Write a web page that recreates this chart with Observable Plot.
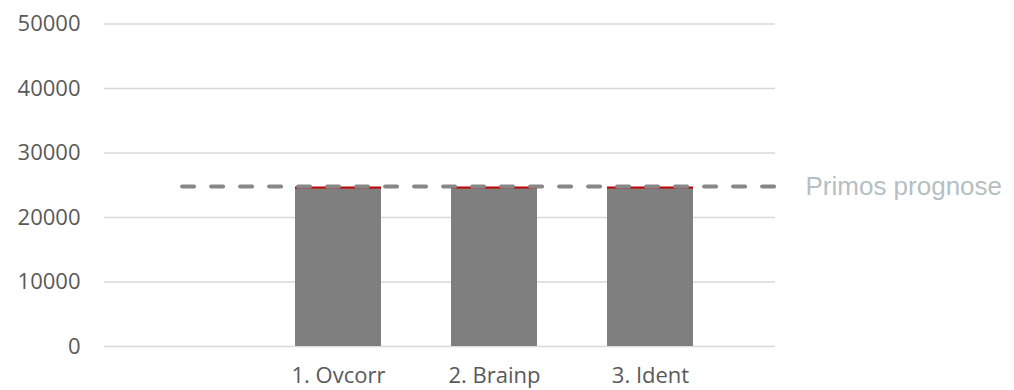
<!DOCTYPE html>
<html><head><meta charset="utf-8">
<script src="https://cdn.jsdelivr.net/npm/d3@7"></script>
<script src="https://cdn.jsdelivr.net/npm/@observablehq/plot@0.6"></script>
<style>html,body{margin:0;padding:0;background:#fff}</style>
</head><body><div id="chart"></div>
<script>
const categories = [" ", "1. Ovcorr", "2. Brainp", "3. Ident"];
const barCategories = ["1. Ovcorr", "2. Brainp", "3. Ident"];
const barValues = [24650, 24650, 24650];
const forecastValue = 24800;
const forecastLabel = "Primos prognose";
const yTicks = [0, 10000, 20000, 30000, 40000, 50000];

const W = 1014, H = 390;
const mL = 104, mR = 239, mT = 23.5, mB = 44;
const bars = barCategories.map((c, i) => ({cat: c, value: barValues[i]}));

const xOpts = {type: "band", domain: categories, paddingInner: 0.449, paddingOuter: 0.375, align: 0.3};
const xs = Plot.scale({x: {...xOpts, range: [mL, W - mR]}});
const startInset = xs.apply(categories[0]) + xs.bandwidth / 2 - mL;

const font = "'Open Sans', sans-serif";
const chart = Plot.plot({
  width: W, height: H,
  marginLeft: mL, marginRight: mR, marginTop: mT, marginBottom: mB,
  style: {fontFamily: font, fontSize: "22px", color: "#595959", background: "#fff", overflow: "visible"},
  x: {...xOpts, label: null, tickSize: 0, tickPadding: 21},
  y: {domain: [0, 50000], ticks: yTicks, label: null, tickSize: 0, tickPadding: 24, tickFormat: d => String(d)},
  marks: [
    Plot.gridY(yTicks, {stroke: "#d9d9d9", strokeOpacity: 1, strokeWidth: 1.5}),
    Plot.barY(bars, {x: "cat", y: "value", fill: "#7f7f7f"}),
    Plot.tickY(bars, {x: "cat", y: "value", stroke: "#c00000", strokeWidth: 2}),
    Plot.ruleY([forecastValue], {y: d => d, stroke: "#878787", strokeWidth: 4, strokeDasharray: "12,17", strokeLinecap: "round", insetLeft: startInset}),
    Plot.text([forecastValue], {y: d => d, text: () => forecastLabel, frameAnchor: "right", textAnchor: "start", dx: 30, fill: "#b5bfc3", fontSize: 26, fontFamily: "'Liberation Sans', Arial, sans-serif"})
  ]
});
document.getElementById("chart").appendChild(chart);
</script>
</body></html>
